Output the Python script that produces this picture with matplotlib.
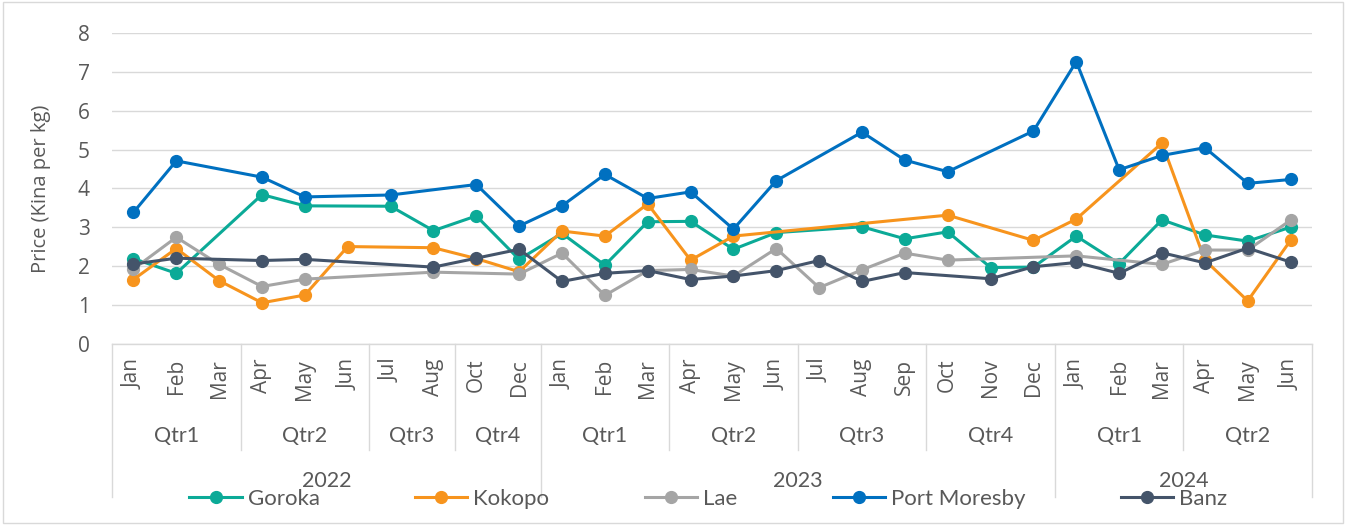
import numpy as np
import matplotlib
matplotlib.use("Agg")
import matplotlib.pyplot as plt
from matplotlib.lines import Line2D
from matplotlib.patches import Rectangle
import matplotlib.transforms as mtransforms

nan = np.nan

# category axis: month / quarter / year
months = ['Jan', 'Feb', 'Mar', 'Apr', 'May', 'Jun', 'Jul', 'Aug', 'Oct', 'Dec',
          'Jan', 'Feb', 'Mar', 'Apr', 'May', 'Jun', 'Jul', 'Aug', 'Sep', 'Oct', 'Nov', 'Dec',
          'Jan', 'Feb', 'Mar', 'Apr', 'May', 'Jun']
quarters = ['Qtr1', 'Qtr2', 'Qtr3', 'Qtr4',
            'Qtr1', 'Qtr2', 'Qtr3', 'Qtr4',
            'Qtr1', 'Qtr2']
quarter_sizes = [3, 3, 2, 2, 3, 3, 3, 3, 3, 3]
years = ['2022', '2023', '2024']
year_sizes = [10, 12, 6]

# prices (Kina per kg), nan = no observation
goroka = [2.19, 1.81, nan, 3.84, 3.55, nan, 3.54, 2.91, 3.29, 2.17,
          2.84, 2.02, 3.14, 3.15, 2.43, 2.86, nan, 3.01, 2.70, 2.88, 1.96, 1.97,
          2.77, 2.06, 3.19, 2.80, 2.64, 3.00]
kokopo = [1.65, 2.45, 1.62, 1.05, 1.25, 2.50, nan, 2.47, 2.19, 1.85,
          2.90, 2.77, 3.60, 2.15, 2.77, nan, nan, nan, nan, 3.31, nan, 2.66,
          3.21, nan, 5.17, 2.15, 1.10, 2.66]
lae = [1.92, 2.74, 2.04, 1.47, 1.66, nan, nan, 1.84, nan, 1.79,
       2.33, 1.24, 1.88, 1.91, 1.74, 2.45, 1.44, 1.90, 2.33, 2.15, nan, nan,
       2.26, nan, 2.04, 2.41, 2.41, 3.18]
port_moresby = [3.38, 4.71, nan, 4.29, 3.78, nan, 3.83, nan, 4.10, 3.03,
                3.55, 4.36, 3.74, 3.91, 2.95, 4.20, nan, 5.45, 4.73, 4.43, nan, 5.48,
                7.27, 4.48, 4.85, 5.05, 4.13, 4.23]
banz = [2.05, 2.20, nan, 2.14, 2.17, nan, nan, 1.97, 2.20, 2.43,
        1.60, 1.81, 1.88, 1.65, 1.74, 1.88, 2.14, 1.60, 1.83, nan, 1.67, 1.98,
        2.09, 1.81, 2.34, 2.08, 2.46, 2.10]

series = [('Goroka', goroka, '#0BAA97'),
          ('Kokopo', kokopo, '#F7941D'),
          ('Lae', lae, '#A5A5A5'),
          ('Port Moresby', port_moresby, '#0070C0'),
          ('Banz', banz, '#44546A')]

W, H = 1345, 525
fig = plt.figure(figsize=(W / 100, H / 100), dpi=100)
ax = fig.add_axes([112 / W, 1 - 343.5 / H, 1200 / W, (343.5 - 33.3) / H])

grid_c = '#D9D9D9'
text_c = '#595959'
label_font = ['Open Sans', 'DejaVu Sans']
group_font = ['Lato', 'DejaVu Sans']

x = np.arange(len(months))
for name, vals, col in series:
    v = np.array(vals, dtype=float)
    m = ~np.isnan(v)
    # gaps are bridged, like Excel's "connect data points with line"
    ax.plot(x[m], v[m], '-o', color=col, lw=2.2, ms=8.5, label=name, zorder=3)

ax.set_xlim(-0.5, len(months) - 0.5)
ax.set_ylim(0, 8)
ax.set_yticks(range(0, 9))
ax.yaxis.grid(True, color=grid_c, lw=1.0)
ax.set_axisbelow(True)
for s in ['left', 'right', 'top']:
    ax.spines[s].set_visible(False)
ax.spines['bottom'].set_color(grid_c)
ax.spines['bottom'].set_linewidth(1.0)

ax.tick_params(axis='y', length=0, pad=16, labelcolor=text_c)
for t in ax.get_yticklabels():
    t.set_fontfamily(label_font)
    t.set_fontsize(15)

ax.set_xticks(x)
ax.set_xticklabels(months, rotation=90, va='top', ha='center',
                   fontsize=15, color=text_c, family=label_font)
ax.tick_params(axis='x', length=0, pad=11)

ax.set_ylabel('Price (Kina per kg)', fontsize=14.5, color=text_c,
               family=label_font, labelpad=19)

# multi-level category labels and separators
trans = mtransforms.blended_transform_factory(ax.transData, fig.transFigure)
y_axis = 1 - 343.5 / H
y_q = 1 - 450 / H
y_y = 1 - 497 / H

start = 0
for q, n in zip(quarters, quarter_sizes):
    ax.text(start + n / 2 - 0.5, 1 - 436 / H, q, transform=trans, ha='center',
            va='center', fontsize=15.5, color=text_c, family=group_font)
    start += n

year_edges = np.cumsum([0] + year_sizes) - 0.5
q_edges = np.cumsum([0] + quarter_sizes) - 0.5
for e in q_edges:
    low = y_y if e in year_edges else y_q
    fig.add_artist(Line2D([e, e], [y_axis, low], transform=trans,
                          color=grid_c, lw=1.0, clip_on=False))

start = 0
for yr, n in zip(years, year_sizes):
    ax.text(start + n / 2 - 0.5, 1 - 481 / H, yr, transform=trans, ha='center',
            va='center', fontsize=15.5, color=text_c, family=group_font)
    start += n

leg = fig.legend(loc='center', bbox_to_anchor=(708.5 / W, 1 - 499 / H), ncol=5,
                 frameon=False, handlelength=2.35, handletextpad=0.27,
                 columnspacing=4.3, borderaxespad=0, borderpad=0,
                 prop={'family': group_font, 'size': 16})
for t in leg.get_texts():
    t.set_color(text_c)

# chart area border
fig.add_artist(Rectangle((2.5 / W, 2 / H), (W - 5) / W, (H - 4) / H,
                         transform=fig.transFigure, fill=False,
                         edgecolor=grid_c, lw=1.0))

fig.savefig('out.png', dpi=100)
